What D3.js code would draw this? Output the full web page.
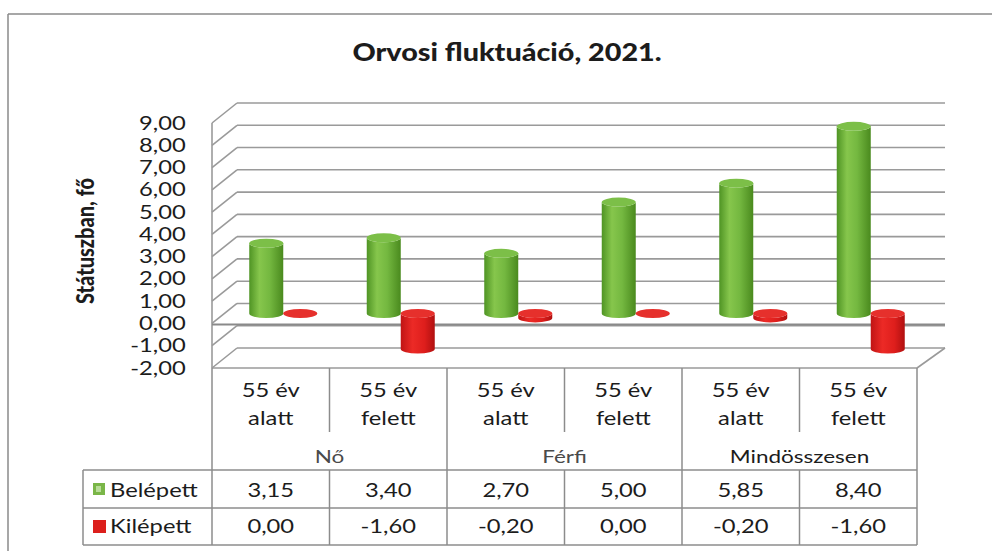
<!DOCTYPE html>
<html>
<head>
<meta charset="utf-8">
<script src="https://cdn.jsdelivr.net/npm/d3@7"></script>
<style>
    body { margin: 0; background: #fff; }
    text { font-family: Lato, "Open Sans", sans-serif; fill: #1c1c1c; }
</style>
</head>
<body>
<script>
// chart data
const categories = ["55 év alatt", "55 év felett", "55 év alatt", "55 év felett", "55 év alatt", "55 év felett"];
const groups = ["Nő", "Férfi", "Mindösszesen"];
const groupOf = [0, 0, 1, 1, 2, 2];
const seriesNames = ["Belépett", "Kilépett"];
const belepett = [3.15, 3.40, 2.70, 5.00, 5.85, 8.40];
const kilepett = [0.00, -1.60, -0.20, 0.00, -0.20, -1.60];
const yTicks = [-2, -1, 0, 1, 2, 3, 4, 5, 6, 7, 8, 9];

const svgWidth = 992;
const svgHeight = 551;
const stretch = 1.25;   // the scan is wider than Calibri, so text is widened

const locale = d3.formatLocale({decimal: ",", thousands: " ", grouping: [3], currency: ["", ""], minus: "-"});
const fmt = locale.format(".2f");

const svg = d3.select("body")
    .append("svg")
    .attr("width", svgWidth)
    .attr("height", svgHeight);

const defs = svg.append("defs");

function addGradient(id, stops) {
    const g = defs.append("linearGradient").attr("id", id)
        .attr("x1", "0%").attr("x2", "100%").attr("y1", "0%").attr("y2", "0%");
    stops.forEach(s => g.append("stop").attr("offset", s[0]).attr("stop-color", s[1]));
}
addGradient("gGreen", [["0%", "#4f9424"], ["30%", "#86c64c"], ["60%", "#74b840"], ["100%", "#4a8a1e"]]);
addGradient("gRed", [["0%", "#c01414"], ["35%", "#ec2a26"], ["70%", "#de1e1c"], ["100%", "#b01010"]]);

// frame
svg.append("line").attr("x1", 8).attr("x2", svgWidth).attr("y1", 14).attr("y2", 14)
    .style("stroke", "#8a8a8a").style("stroke-width", 1.5);
svg.append("line").attr("x1", 8).attr("x2", 8).attr("y1", 14).attr("y2", svgHeight)
    .style("stroke", "#8a8a8a").style("stroke-width", 1.5);

// title
svg.append("text")
    .attr("transform", `translate(507, 61) scale(1.15, 1)`)
    .attr("text-anchor", "middle")
    .style("font-size", "25px")
    .style("font-weight", "900")
    .text("Orvosi fluktuáció, 2021.");

// scales
const depth = {dx: 25, dy: -20};
const yFront = d3.scaleLinear().domain([-2, 9]).range([368, 123]);
const yBack = v => yFront(v) + depth.dy;
const yMid = v => yFront(v) + depth.dy / 2;

const x = d3.scaleBand()
    .domain(d3.range(categories.length))
    .range([212, 917]);
const bw = x.bandwidth();
const left = x.range()[0], right = x.range()[1];

// walls
const walls = svg.append("g").style("stroke", "#9a9a9a").style("stroke-width", 1.6).style("fill", "none");

walls.selectAll(null)
    .data(yTicks)
    .join("line")
    .attr("x1", left + depth.dx).attr("x2", right + depth.dx + 3)
    .attr("y1", d => yBack(d)).attr("y2", d => yBack(d));

walls.selectAll(null)
    .data(yTicks)
    .join("line")
    .attr("x1", left).attr("x2", left + depth.dx)
    .attr("y1", d => yFront(d)).attr("y2", d => yBack(d));

walls.append("line")
    .attr("x1", left).attr("x2", left)
    .attr("y1", yFront(9)).attr("y2", yFront(-2));

// floor
walls.append("line")
    .attr("x1", left).attr("x2", right)
    .attr("y1", yFront(-2)).attr("y2", yFront(-2));
walls.append("line")
    .attr("x1", right).attr("x2", right + depth.dx + 3)
    .attr("y1", yFront(-2)).attr("y2", yBack(-2));

// axis line at 0
svg.append("line")
    .attr("x1", left).attr("x2", right + depth.dx + 3)
    .attr("y1", yFront(0) + 1).attr("y2", yFront(0) + 1)
    .style("stroke", "#8a8a8a").style("stroke-width", 2);

// y axis labels
const yAxis = svg.append("g")
    .attr("transform", `translate(${left}, 0)`)
    .call(d3.axisLeft(yFront).tickValues(yTicks).tickFormat(fmt).tickSize(0).tickPadding(21));
yAxis.select(".domain").remove();
yAxis.selectAll("text")
    .attr("transform", `scale(${stretch}, 1)`)
    .style("font-family", "Lato, sans-serif")
    .style("font-size", "19px")
    .style("fill", "#1c1c1c");

svg.append("text")
    .attr("transform", `translate(94, 241) rotate(-90) scale(1, 1.2)`)
    .attr("text-anchor", "middle")
    .style("font-size", "20px")
    .style("font-weight", "900")
    .text("Státuszban, fő");

// cylinders
const rx = 17, ry = 4.5;

function cylPath(cx, yTop, yBot) {
    return `M${cx - rx},${yTop} L${cx - rx},${yBot} A${rx},${ry} 0 0 0 ${cx + rx},${yBot} ` +
        `L${cx + rx},${yTop} A${rx},${ry} 0 0 1 ${cx - rx},${yTop} Z`;
}

const series = [
    {name: seriesNames[0], values: belepett, fill: "url(#gGreen)", top: "#7cbf48", off: -17},
    {name: seriesNames[1], values: kilepett, fill: "url(#gRed)", top: "#e6302c", off: 17}
];

categories.forEach((c, i) => {
    series.forEach(s => {
        const v = s.values[i];
        const cx = x(i) + bw / 2 + depth.dx / 2 + s.off;
        const yTop = yMid(Math.max(v, 0));
        const yBot = yMid(Math.min(v, 0));
        const g = svg.append("g").classed("cyl", true);
        g.append("path")
            .attr("d", cylPath(cx, yTop, yBot))
            .style("fill", s.fill);
        g.append("ellipse")
            .attr("cx", cx).attr("cy", yTop)
            .attr("rx", rx).attr("ry", ry)
            .style("fill", s.top);
    });
});

// data table
const table = svg.append("g").style("stroke", "#8c8c8c").style("stroke-width", 1.5);
const catTop = yFront(-2), subBottom = 432, tableTop = 470, rowMid = 508, tableBottom = 545;
const legendLeft = 83;

// category separators
table.selectAll(null)
    .data(d3.range(categories.length + 1))
    .join("line")
    .attr("x1", d => left + d * bw).attr("x2", d => left + d * bw)
    .attr("y1", catTop)
    .attr("y2", d => d % 2 === 0 ? tableBottom : subBottom);

[tableTop, rowMid, tableBottom].forEach(yy => {
    table.append("line").attr("x1", legendLeft).attr("x2", right).attr("y1", yy).attr("y2", yy);
});
table.append("line").attr("x1", legendLeft).attr("x2", legendLeft).attr("y1", tableTop).attr("y2", tableBottom);

// table columns
for (let i = 1; i < categories.length; i += 2) {
    table.append("line")
        .attr("x1", left + i * bw).attr("x2", left + i * bw)
        .attr("y1", tableTop).attr("y2", tableBottom);
}

function wideText(xx, yy, str, size, color) {
    return svg.append("text")
        .attr("transform", `translate(${xx}, ${yy}) scale(${stretch}, 1)`)
        .attr("text-anchor", "middle")
        .attr("dy", "0.35em")
        .style("font-size", size + "px")
        .style("fill", color || "#1c1c1c")
        .text(str);
}

categories.forEach((c, i) => {
    const cut = c.lastIndexOf(" ");
    const cx = x(i) + bw / 2;
    wideText(cx, 390, c.slice(0, cut), 19);
    wideText(cx, 418, c.slice(cut + 1), 19);
    wideText(cx, 490, fmt(belepett[i]), 19);
    wideText(cx, 526, fmt(kilepett[i]), 19);
});

groups.forEach((gname, gi) => {
    const idx = d3.range(categories.length).filter(i => groupOf[i] === gi);
    const cx = (x(idx[0]) + x(idx[idx.length - 1]) + bw) / 2;
    wideText(cx, 457, gname, 18, gi === 2 ? "#1c1c1c" : "#4a4a4a");
});

// legend keys
svg.append("rect").attr("x", 93).attr("y", 483).attr("width", 12).attr("height", 12)
    .style("fill", "#7ab648");
svg.append("rect").attr("x", 96).attr("y", 486).attr("width", 5).attr("height", 6)
    .style("fill", "#b8dc98");
svg.append("rect").attr("x", 93).attr("y", 520).attr("width", 13).attr("height", 13)
    .style("fill", "#dc1f1c");

seriesNames.forEach((n, k) => {
    svg.append("text")
        .attr("transform", `translate(110, ${k === 0 ? 490 : 526}) scale(${stretch}, 1)`)
        .attr("dy", "0.35em")
        .style("font-size", "19px")
        .text(n);
});
</script>
</body>
</html>
